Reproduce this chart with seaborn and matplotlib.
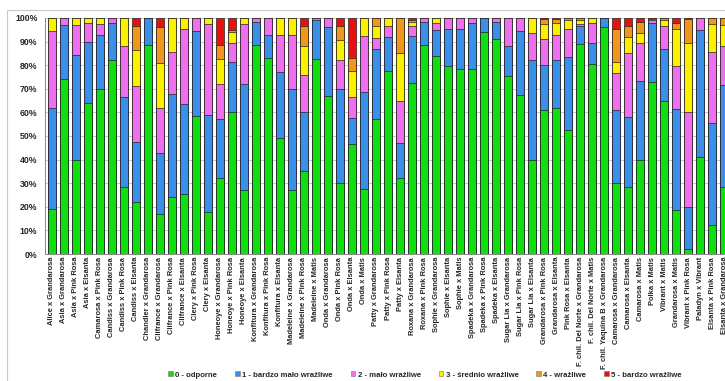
import numpy as np
import matplotlib
matplotlib.use("Agg")
import matplotlib.pyplot as plt
import seaborn as sns
from matplotlib.patches import Rectangle, Patch

crosses = ["Alice x Grandarosa", "Asia x Grandarosa", "Asia x Pink Rosa", "Asia x Elsanta",
           "Camarosa x Pink Rosa", "Candiss x Grandarosa", "Candiss x Pink Rosa", "Candiss x Elsanta",
           "Chandler x Grandarosa", "Clifrance x Grandarosa", "Clifrance x Pink Rosa", "Clifrance x Elsanta",
           "Clery x Pink Rosa", "Clery x Elsanta", "Honeoye x Grandarosa", "Honeoye x Pink Rosa",
           "Honeoye x Elsanta", "Konfitura x Grandarosa", "Konfitura x Pink Rosa", "Konfitura x Elsanta",
           "Madeleine x Grandarosa", "Madeleine x Pink Rosa", "Madeleine x Matis", "Onda x Grandarosa",
           "Onda x Pink Rosa", "Onda x Elsanta", "Onda x Matis", "Patty x Grandarosa",
           "Patty x Pink Rosa", "Patty x Elsanta", "Roxana x Grandarosa", "Roxana x Pink Rosa",
           "Sophie x Grandarosa", "Sophie x Elsanta", "Sophie x Matis", "Spadeka x Grandarosa",
           "Spadeka x Pink Rosa", "Spadeka x Elsanta", "Sugar Lia x Grandarosa", "Sugar Lia x Pink Rosa",
           "Sugar Lia x Elsanta", "Grandarosa x Pink Rosa", "Grandarosa x Elsanta", "Pink Rosa x Elsanta",
           "F. chil. Del Norte x Grandarosa", "F. chil. Del Norte x Matis", "F. chil. Yaquina B x Grandarosa",
           "Camarosa x Grandarosa", "Camarosa x Elsanta", "Camarosa x Matis", "Polka x Matis",
           "Vibrant x Matis", "Grandarosa x Matis", "Vibrant x Pink Rosa", "Paladyn x Vibrant",
           "Elsanta x Pink Rosa", "Elsanta x Grandarosa"]

# percentages per susceptibility class (0 .. 5)
odporne = [19, 74, 40, 64, 70, 82, 28.5, 22, 88.5, 17, 24, 25.5, 58.5, 18, 32, 60, 27, 88.5, 83, 49,
           27, 35, 82.5, 67, 30, 46.5, 27.5, 57, 77.5, 32, 72.5, 88.5, 84, 79.5, 78.5, 78.5, 94, 91,
           75.5, 67.5, 40, 61, 62, 52.5, 89, 80.5, 96, 30, 28.5, 40, 73, 65, 18.5, 2, 41, 12.5, 28.5]
b_malo = [43, 23, 44.5, 26, 23, 16, 38, 25.5, 11.5, 26, 44, 38, 36, 41, 25, 21.5, 45, 10, 10, 28,
          43, 25, 16.5, 29, 40, 11, 41, 30, 14.5, 15, 20, 10, 11, 16, 17, 19.5, 6, 7.5,
          12.5, 27, 42, 19, 20, 31, 7.5, 9, 4, 31, 29.5, 33.5, 25, 22, 43, 18, 54, 43, 43]
malo = [32.5, 3, 12.5, 8, 4.5, 2, 21.5, 23.5, 0, 19, 17.5, 32, 5.5, 38.5, 15, 8, 25.5, 1.5, 7, 16,
        23, 16, 1, 4, 12, 9, 24, 4.5, 4.5, 18, 4, 1.5, 3, 4.5, 4.5, 2, 0, 1.5,
        12, 5.5, 11.5, 11, 11, 12, 1, 8.5, 0, 15.5, 27, 16, 1, 9.5, 18, 40.5, 5, 30, 16.5]
srednio = [5.5, 0, 3, 2, 2.5, 0, 12, 15.5, 0, 19, 14.5, 4.5, 0, 2.5, 10.5, 4.5, 2.5, 0, 0, 7,
           7, 12, 0, 0, 8.5, 11, 7.5, 5, 3.5, 20, 2, 0, 2, 0, 0, 0, 0, 0,
           0, 0, 6.5, 6.5, 5, 3.5, 1.5, 2, 0, 5, 7, 4, 0.5, 2.5, 16, 29.5, 0, 12, 9]
wrazliwe = [0, 0, 0, 0, 0, 0, 0, 10, 0, 15, 0, 0, 0, 0, 6, 1, 0, 0, 0, 0,
            0, 8.5, 0, 0, 6, 5.5, 0, 3.5, 0, 15, 0.5, 0, 0, 0, 0, 0, 0, 0,
            0, 0, 0, 2, 1.5, 1, 1, 0, 0, 14, 4.5, 5, 0.5, 1, 2.5, 10, 0, 2.5, 3]
b_wrazliwe = [0, 0, 0, 0, 0, 0, 0, 3.5, 0, 4, 0, 0, 0, 0, 11.5, 5, 0, 0, 0, 0,
              0, 3.5, 0, 0, 3.5, 17, 0, 0, 0, 0, 1, 0, 0, 0, 0, 0, 0, 0,
              0, 0, 0, 0.5, 0.5, 0, 0, 0, 0, 4.5, 3.5, 1.5, 0, 0, 2, 0.5, 0, 0, 0]

classes = ["0 - odporne", "1 - bardzo mało wrażliwe", "2 - mało wrażliwe",
           "3 - średnio wrażliwe", "4 - wrażliwe", "5 - bardzo wrażliwe"]
colors = ["#11DD11", "#3A8FE8", "#F06EF0", "#FAF000", "#F0981E", "#E81010"]

sns.set_theme(style="white")
plt.rcParams["font.family"] = ["Liberation Sans", "DejaVu Sans"]

vals = np.array([odporne, b_malo, malo, srednio, wrazliwe, b_wrazliwe], dtype=float)
vals = vals / vals.sum(axis=0) * 100  # 100% stacked
cum = np.cumsum(vals, axis=0)

fig = plt.figure(figsize=(7.25, 3.81), dpi=100)
ax = fig.add_axes([45 / 725, 127 / 381, 680 / 725, 236 / 381])

# draw from the top class down so each layer covers the one beneath
for k in range(5, -1, -1):
    sns.barplot(x=crosses, y=cum[k], color=colors[k], saturation=1, width=0.6,
                edgecolor="#222222", linewidth=0.5, ax=ax)

ax.set_ylim(0, 100)
ax.set_xlim(-0.58, 56.08)
ax.set_yticks(range(0, 101, 10))
ax.set_yticklabels([f"{v}%" for v in range(0, 101, 10)], fontsize=6.3, fontweight="bold")
ax.set_xticks(range(len(crosses)))
ax.set_xticklabels(crosses, rotation=90, fontsize=5.4, fontweight="bold", va="top", ha="center")
ax.yaxis.grid(True, color="#BEBEBE", linewidth=0.6)
ax.set_axisbelow(True)
ax.tick_params(axis="y", length=2.5, width=0.6, color="#777777", pad=3)
ax.tick_params(axis="x", length=0, pad=2)
for s in ["top", "right"]:
    ax.spines[s].set_visible(False)
for s in ["left", "bottom"]:
    ax.spines[s].set_color("#888888")
    ax.spines[s].set_linewidth(0.7)
ax.set_xlabel("")
ax.set_ylabel("")

handles = [Patch(facecolor=c, edgecolor="#777777", linewidth=0.4) for c in colors]
fig.legend(handles, classes, loc="center", bbox_to_anchor=(425 / 725, 1 - 375 / 381), ncol=6,
           frameon=False, handlelength=0.6, handleheight=0.6, handletextpad=0.3,
           columnspacing=2.3, borderpad=0.1, prop={"size": 5.6, "weight": "bold"})

fig.patches.append(Rectangle((7 / 725, -0.1), 1.1, 1.1 - 10 / 381, transform=fig.transFigure,
                             fill=False, edgecolor="#C8C8C8", linewidth=0.8))

fig.savefig("out.png", dpi=100)
